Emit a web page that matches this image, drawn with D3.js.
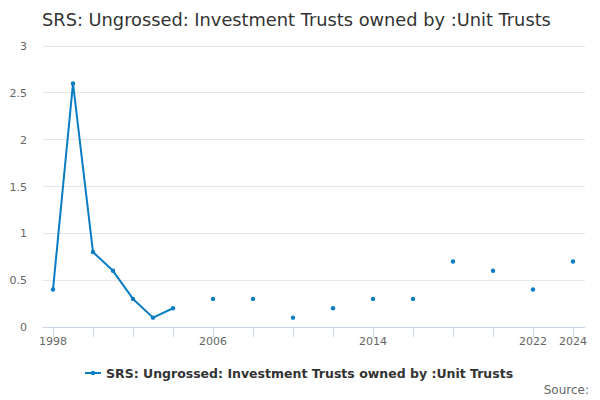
<!DOCTYPE html>
<html><head><meta charset="utf-8">
<script src="https://cdn.jsdelivr.net/npm/d3@7"></script>
<style>body{margin:0;background:#fff;}svg{display:block;font-family:"DejaVu Sans",sans-serif;}</style>
</head><body>
<script>
const years = [1998,1999,2000,2001,2002,2003,2004,2005,2006,2007,2008,2009,2010,2011,2012,2013,2014,2015,2016,2017,2018,2019,2020,2021,2022,2023,2024];
const values = [0.4,2.6,0.8,0.6,0.3,0.1,0.2,null,0.3,null,0.3,null,0.1,null,0.2,null,0.3,null,0.3,null,0.7,null,0.6,null,0.4,null,0.7];
const yTicks = [0,0.5,1,1.5,2,2.5,3];
const xTickYears = [1998,2000,2002,2004,2006,2008,2010,2012,2014,2016,2018,2020,2022,2024];
const xLabelYears = [1998,2006,2014,2022,2024];
const seriesName = "SRS: Ungrossed: Investment Trusts owned by :Unit Trusts";
const title = "SRS: Ungrossed: Investment Trusts owned by :Unit Trusts";

const W=600,H=400, color="#0a7cc4";
const svg=d3.select("body").append("svg").attr("width",W).attr("height",H);
const x=d3.scaleLinear().domain([1998,2024]).range([53,573]);
const y=d3.scaleLinear().domain([0,3]).range([327,46]);
const plotL=43, plotR=585;

svg.append("text").attr("x",42).attr("y",26).attr("font-size",17.8).attr("fill","#333").text(title);

// gridlines
svg.append("g").selectAll("line").data(yTicks.filter(d=>d>0)).join("line")
  .attr("x1",plotL).attr("x2",plotR).attr("y1",d=>y(d)).attr("y2",d=>y(d))
  .attr("stroke","#e6e6e6").attr("stroke-width",1).attr("shape-rendering","crispEdges");
// y labels
svg.append("g").selectAll("text").data(yTicks).join("text")
  .attr("x",27).attr("y",d=>y(d)+4).attr("text-anchor","end").attr("font-size",11).attr("fill","#666")
  .text(d=>d3.format("")(d));
// x axis line
svg.append("line").attr("x1",plotL).attr("x2",plotR).attr("y1",y(0)+0.5).attr("y2",y(0)+0.5)
  .attr("stroke","#ccd6eb").attr("stroke-width",1);
svg.append("g").selectAll("line").data(xTickYears).join("line")
  .attr("x1",d=>Math.round(x(d))+0.5).attr("x2",d=>Math.round(x(d))+0.5).attr("y1",y(0)).attr("y2",y(0)+10)
  .attr("stroke","#ccd6eb").attr("stroke-width",1);
svg.append("g").selectAll("text").data(xLabelYears).join("text")
  .attr("x",d=>x(d)).attr("y",y(0)+18).attr("text-anchor","middle").attr("font-size",11).attr("fill","#666")
  .text(d=>d);

const data=years.map((yr,i)=>({yr,v:values[i]}));
const line=d3.line().defined(d=>d.v!==null).x(d=>x(d.yr)).y(d=>y(d.v));
svg.append("path").datum(data).attr("d",line).attr("fill","none").attr("stroke",color).attr("stroke-width",2)
  .attr("stroke-linejoin","round").attr("stroke-linecap","round");
svg.append("g").selectAll("circle").data(data.filter(d=>d.v!==null)).join("circle")
  .attr("cx",d=>x(d.yr)).attr("cy",d=>y(d.v)).attr("r",2.2).attr("fill",color);

// legend
const lg=svg.append("g");
lg.append("line").attr("x1",85).attr("x2",101).attr("y1",373).attr("y2",373).attr("stroke",color).attr("stroke-width",2);
lg.append("circle").attr("cx",93).attr("cy",373).attr("r",2.2).attr("fill",color);
lg.append("text").attr("x",106).attr("y",378).attr("font-size",12.5).attr("font-weight","bold").attr("fill","#333").text(seriesName);

svg.append("text").attr("x",589).attr("y",394).attr("text-anchor","end").attr("font-size",12).attr("fill","#666").text("Source:");
</script>
</body></html>
